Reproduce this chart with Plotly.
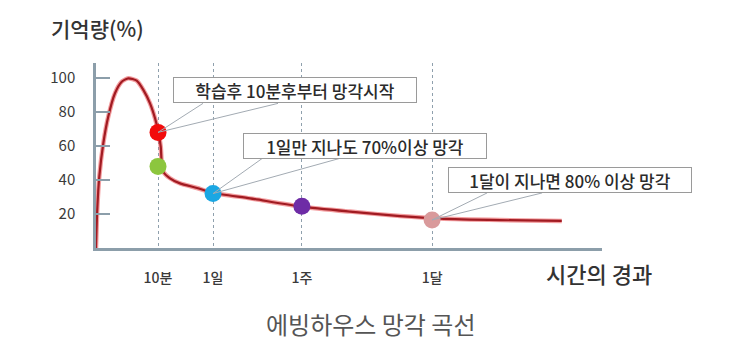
import plotly.graph_objects as go

# ---- data ----
tick_labels = ["10분", "1일", "1주", "1달"]
tick_pos = [1.0, 1.887, 3.32, 5.42]          # time position (arbitrary scale)
y_ticks = [20, 40, 60, 80, 100]

curve_x = [0, 0.02, 0.053, 0.118, 0.198, 0.306, 0.415, 0.521, 0.656, 0.763, 0.871,
           0.952, 1.005, 1.044, 1.06, 1.085, 1.194, 1.355, 1.629, 1.882, 2.484,
           3.318, 4.097, 4.903, 5.548, 6.516, 7.511]
curve_y = [0, 22.4, 42, 61.6, 77.3, 91, 97.8, 99.8, 98.4, 93, 85.1,
           76.3, 68.4, 59.6, 49.8, 44.9, 41, 38, 35.3, 32.5, 29.2,
           24.3, 21.4, 18.8, 17.3, 16.4, 15.9]

point_idx = [0, 0, 1, 2, 3]                  # which tick each point sits on
point_y = [68, 48, 32, 24.5, 16.5]
point_colors = ["#f20c0c", "#8cc63e", "#1ba7e3", "#6e2ca6", "#d99a9b"]

callout_texts = ["학습후 10분후부터 망각시작", "1일만 지나도 70%이상 망각", "1달이 지나면 80% 이상 망각"]
callout_point = [0, 2, 4]

AXIS = "#8c9eaa"
FONT = "Noto Sans CJK KR"

fig = go.Figure()
fig.add_trace(go.Scatter(x=curve_x, y=curve_y, mode="lines",
                         line=dict(color="rgba(232,60,64,0.5)", width=4.5, shape="spline", smoothing=0.6),
                         hoverinfo="skip", showlegend=False))
fig.add_trace(go.Scatter(x=curve_x, y=curve_y, mode="lines",
                         line=dict(color="#a11b22", width=2.2, shape="spline", smoothing=0.6),
                         hoverinfo="skip", showlegend=False))
px_ = [tick_pos[i] for i in point_idx]
fig.add_trace(go.Scatter(x=px_, y=point_y, mode="markers",
                         marker=dict(color=point_colors, size=17, line=dict(width=0)),
                         hoverinfo="skip", showlegend=False))

# callout wedges (pixel offsets from the point) and boxes
wedges = [((45, 29), (120, 29)), ((49, 35), (126, 35)), ((55, 27), (110, 27))]
box_off = [(137, -42.5), (152, -48), (137.5, -40)]
shapes = []
annotations = []
for k, pi in enumerate(callout_point):
    xa, ya = px_[pi], point_y[pi]
    for (dx, dy) in wedges[k]:
        shapes.append(dict(type="line", xref="x", yref="y", xsizemode="pixel", ysizemode="pixel",
                           xanchor=xa, yanchor=ya, x0=0, y0=0, x1=dx, y1=dy,
                           line=dict(color="#a3abb3", width=1), layer="above"))
    annotations.append(dict(x=xa, y=ya, xref="x", yref="y", text=callout_texts[k],
                            showarrow=True, arrowcolor="rgba(0,0,0,0)", arrowwidth=0.1,
                            ax=box_off[k][0], ay=box_off[k][1],
                            font=dict(family=FONT, size=17, color="#2b2b2b", weight=500),
                            bgcolor="white", bordercolor="#9a9a9a", borderwidth=1,
                            borderpad=1, width=240, height=22))

annotations.append(dict(x=-0.093, y=1.189, xref="paper", yref="paper", text="기억량(%)",
                        showarrow=False, xanchor="left", yanchor="middle",
                        font=dict(family=FONT, size=21, color="#333333", weight=500)))
annotations.append(dict(x=0.885, y=-0.135, xref="paper", yref="paper", text="시간의 경과",
                        showarrow=False, xanchor="left", yanchor="middle",
                        font=dict(family=FONT, size=22, color="#333333", weight=500)))
annotations.append(dict(x=(370 - 96) / 506, y=(248 - 323) / 185, xref="paper", yref="paper",
                        text="에빙하우스 망각 곡선", showarrow=False, xanchor="center", yanchor="middle",
                        font=dict(family=FONT, size=24, color="#555555")))

fig.update_layout(
    width=743, height=352, margin=dict(l=96, r=141, t=63, b=104),
    paper_bgcolor="white", plot_bgcolor="white",
    shapes=shapes, annotations=annotations,
    xaxis=dict(range=[0, 8.16], showline=True, linecolor=AXIS, linewidth=2.5,
               tickvals=tick_pos, ticktext=tick_labels, ticks="",
               tickfont=dict(family=FONT, size=14, color="#3a3a3a", weight=500), ticklabelstandoff=15,
               showgrid=True, gridcolor="#8fa0ad", griddash="dot", gridwidth=1, zeroline=False,
               fixedrange=True),
    yaxis=dict(range=[0, 108.8], showline=True, linecolor=AXIS, linewidth=2.5,
               tickvals=y_ticks, ticks="inside", ticklen=14, tickwidth=1.5, tickcolor=AXIS,
               tickfont=dict(family=FONT, size=15, color="#3a3a3a"), ticklabelstandoff=15,
               showgrid=False, zeroline=False, fixedrange=True),
)
fig.write_html("out.html")
